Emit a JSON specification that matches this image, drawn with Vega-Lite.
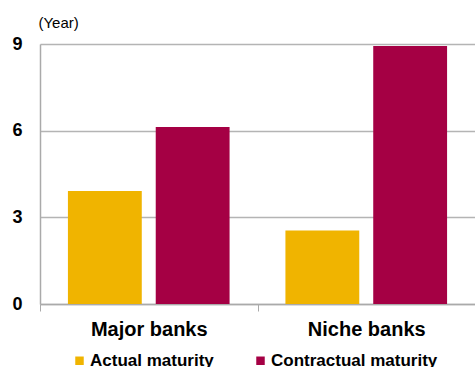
{
  "$schema": "https://vega.github.io/schema/vega-lite/v6.json",
  "autosize": "none",
  "width": 435,
  "height": 260,
  "padding": {"left": 40, "top": 44, "right": 0, "bottom": 63},
  "background": "white",
  "config": {
    "font": "Liberation Sans",
    "view": {"stroke": null},
    "axis": {"labelFont": "Liberation Sans", "titleFont": "Liberation Sans"}
  },
  "data": {
    "values": [
      {"bank": "Major banks", "series": "Actual maturity", "value": 3.91},
      {"bank": "Major banks", "series": "Contractual maturity", "value": 6.13},
      {"bank": "Niche banks", "series": "Actual maturity", "value": 2.54},
      {"bank": "Niche banks", "series": "Contractual maturity", "value": 8.93}
    ]
  },
  "mark": {"type": "bar"},
  "encoding": {
    "x": {
      "field": "bank",
      "type": "nominal",
      "sort": ["Major banks", "Niche banks"],
      "scale": {"paddingInner": 0, "paddingOuter": 0},
      "axis": {
        "title": null,
        "labelAngle": 0,
        "labelFontSize": 20,
        "labelFontWeight": "bold",
        "labelColor": "#000000",
        "labelPadding": 8,
        "tickBand": "extent",
        "ticks": true,
        "tickSize": 7,
        "tickColor": "#aaaaaa",
        "tickWidth": 1,
        "domain": true,
        "domainColor": "#aaaaaa",
        "domainWidth": 1.5,
        "grid": false
      }
    },
    "xOffset": {
      "field": "series",
      "type": "nominal",
      "sort": ["Actual maturity", "Contractual maturity"],
      "scale": {"paddingInner": 0.159, "paddingOuter": 0.318}
    },
    "y": {
      "field": "value",
      "type": "quantitative",
      "scale": {"domain": [0, 9], "nice": false},
      "axis": {
        "title": "(Year)",
        "titleAngle": 0,
        "titleAlign": "left",
        "titleBaseline": "alphabetic",
        "titleX": -2,
        "titleY": -17,
        "titleFontSize": 15,
        "titleFontWeight": "normal",
        "titleColor": "#000000",
        "values": [0, 3, 6, 9],
        "labelFontSize": 18,
        "labelFontWeight": "bold",
        "labelColor": "#000000",
        "labelPadding": 18,
        "ticks": false,
        "domain": true,
        "domainColor": "#aaaaaa",
        "domainWidth": 1.5,
        "grid": true,
        "gridColor": "#b4b4b4",
        "gridWidth": 1.5
      }
    },
    "color": {
      "field": "series",
      "type": "nominal",
      "sort": ["Actual maturity", "Contractual maturity"],
      "scale": {
        "domain": ["Actual maturity", "Contractual maturity"],
        "range": ["#F0B400", "#A50044"]
      },
      "legend": {
        "title": null,
        "orient": "none",
        "direction": "horizontal",
        "legendX": 31,
        "legendY": 308,
        "padding": 0,
        "symbolType": "square",
        "symbolSize": 72,
        "symbolStrokeWidth": 0,
        "labelFontSize": 17,
        "labelFontWeight": "bold",
        "labelColor": "#000000",
        "labelOffset": 2,
        "labelLimit": 0,
        "columnPadding": 38
      }
    }
  }
}
